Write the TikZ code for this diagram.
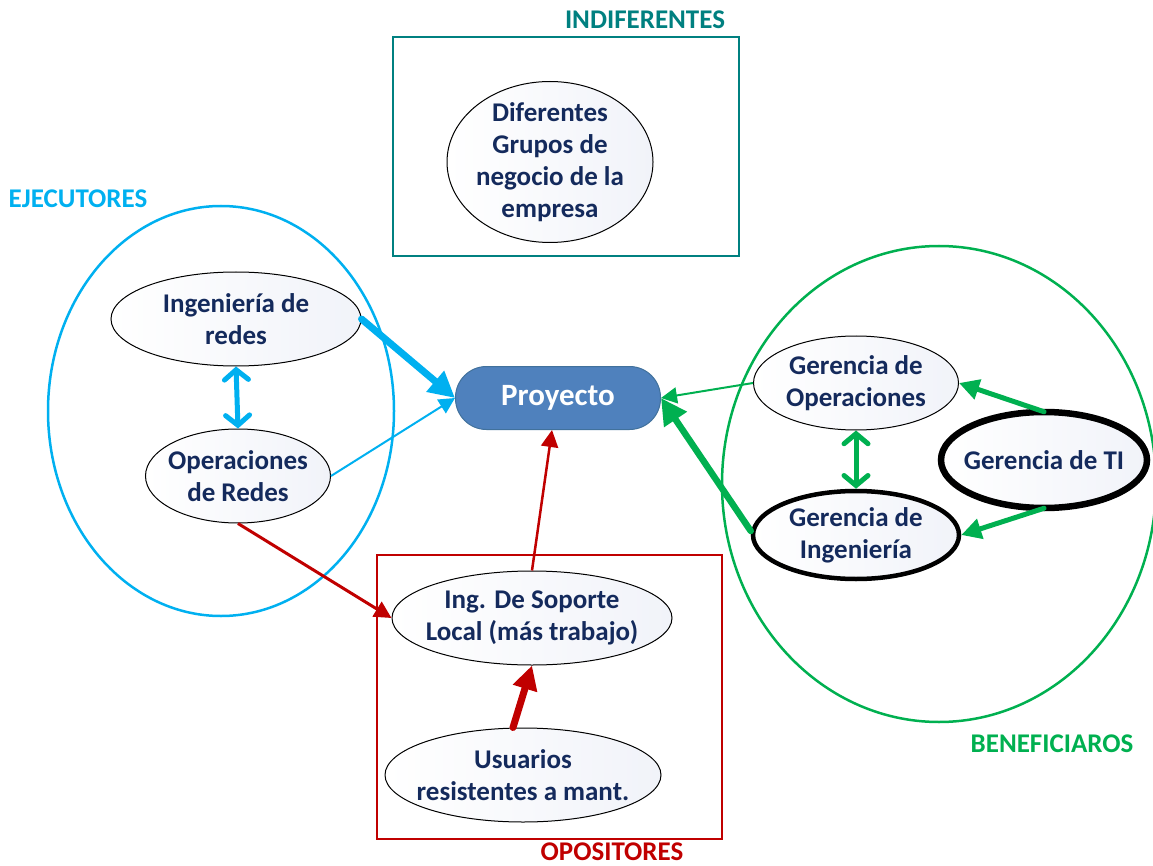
\documentclass[tikz,border=0pt]{standalone}
\usepackage{fontspec}
\setmainfont{Carlito}
\usetikzlibrary{shapes.geometric,arrows.meta}
\definecolor{cyanE}{HTML}{00B0F0}
\definecolor{tealI}{HTML}{008080}
\definecolor{redO}{HTML}{C00000}
\definecolor{greenB}{HTML}{00B050}
\definecolor{navy}{HTML}{142A5C}
\definecolor{projfill}{HTML}{4F81BD}
\definecolor{projdraw}{HTML}{41719C}
\definecolor{ellfill}{HTML}{F1F3F9}
\tikzset{
  stake/.style={ellipse, draw=black, line width=1pt, left color=white, right color=ellfill,
    inner xsep=-40pt, inner ysep=-10pt, align=center, text=navy, font=\fontsize{27}{32}\selectfont\bfseries},
  grouplabel/.style={inner sep=0pt, font=\fontsize{27}{30}\selectfont\bfseries},
  tri/.style={-{Triangle[length=#1,width=#1]}},
  barbs/.style={{Straight Barb[length=10pt,width=24pt,line cap=round]}-{Straight Barb[length=10pt,width=24pt,line cap=round]}, line cap=round}
}
\begin{document}
\begin{tikzpicture}[x=1pt,y=-1pt]
\useasboundingbox (0,0) rectangle (1153,866);
% group containers
\node[ellipse, draw=cyanE, line width=2.5pt, minimum width=346pt, minimum height=410pt, inner sep=0pt] (ejec) at (221,411) {};
\node[ellipse, draw=greenB, line width=2.5pt, minimum width=434pt, minimum height=476pt, inner sep=0pt] (bene) at (939,484) {};
\node[draw=tealI, line width=2.5pt, minimum width=346pt, minimum height=219pt, inner sep=0pt] (indbox) at (566,146.5) {};
\node[draw=redO, line width=2.5pt, minimum width=345pt, minimum height=284pt, inner sep=0pt] (opobox) at (549.5,697) {};
% group labels
\node[grouplabel, text=cyanE] (lejec) at (78,199) {EJECUTORES};
\node[grouplabel, text=tealI] (lind) at (645,20) {INDIFERENTES};
\node[grouplabel, text=greenB] (lbene) at (1052,744) {BENEFICIAROS};
\node[grouplabel, text=redO] (lopo) at (612,852) {OPOSITORES};
% stakeholders
\node[stake, minimum width=250pt, minimum height=94pt] (ingr) at (236,319) {Ingeniería de\\redes};
\node[stake, minimum width=185pt, minimum height=94pt] (opr) at (238,476) {Operaciones\\de Redes};
\node[stake, minimum width=206pt, minimum height=161pt] (dif) at (550,162) {Diferentes\\Grupos de\\negocio de la\\empresa};
\node[rectangle, rounded corners=31pt, draw=projdraw, line width=1pt, fill=projfill, minimum width=205pt, minimum height=63pt, text=white, font=\fontsize{31}{34}\selectfont\bfseries] (proj) at (558,398) {Proyecto};
\node[stake, minimum width=205pt, minimum height=94pt] (gops) at (856,383) {Gerencia de\\Operaciones};
\node[stake, line width=4.5pt, minimum width=206pt, minimum height=88pt] (ging) at (856,535) {Gerencia de\\Ingeniería};
\node[stake, line width=6.5pt, minimum width=206pt, minimum height=96pt] (gti) at (1044,460) {Gerencia de TI};
\node[stake, minimum width=280pt, minimum height=94pt] (sop) at (532,618) {Ing. De Soporte\\Local (más trabajo)};
\node[stake, minimum width=276pt, minimum height=94pt] (usu) at (523,775) {Usuarios\\resistentes a mant.};
% connectors
\draw[cyanE, line width=7pt, line cap=round, tri=26pt] (ingr.east) -- (proj.west);
\draw[cyanE, line width=2pt, tri=16pt] (opr.east) -- (proj.west);
\draw[cyanE, line width=5pt, barbs] (ingr.south) -- (opr.north);
\draw[redO, line width=3pt, tri=17pt] (opr.south) -- (sop.west);
\draw[redO, line width=2.5pt, tri=17pt] (sop.north) -- ([xshift=-6pt]proj.south);
\draw[redO, line width=7pt, line cap=round, tri=24pt] ([xshift=-10pt]usu.north) -- (sop.south);
\draw[greenB, line width=2pt, tri=16pt] (gops.west) -- (proj.east);
\draw[greenB, line width=6.5pt, line cap=round, tri=26pt] ([yshift=4pt]ging.west) -- (proj.east);
\draw[greenB, line width=5pt, barbs] (gops.south) -- (ging.north);
\draw[greenB, line width=5pt, line cap=round, tri=20pt] ([yshift=-3pt]gti.north) -- (gops.east);
\draw[greenB, line width=5pt, line cap=round, tri=20pt] ([yshift=3pt]gti.south) -- (ging.east);
\end{tikzpicture}
\end{document}
